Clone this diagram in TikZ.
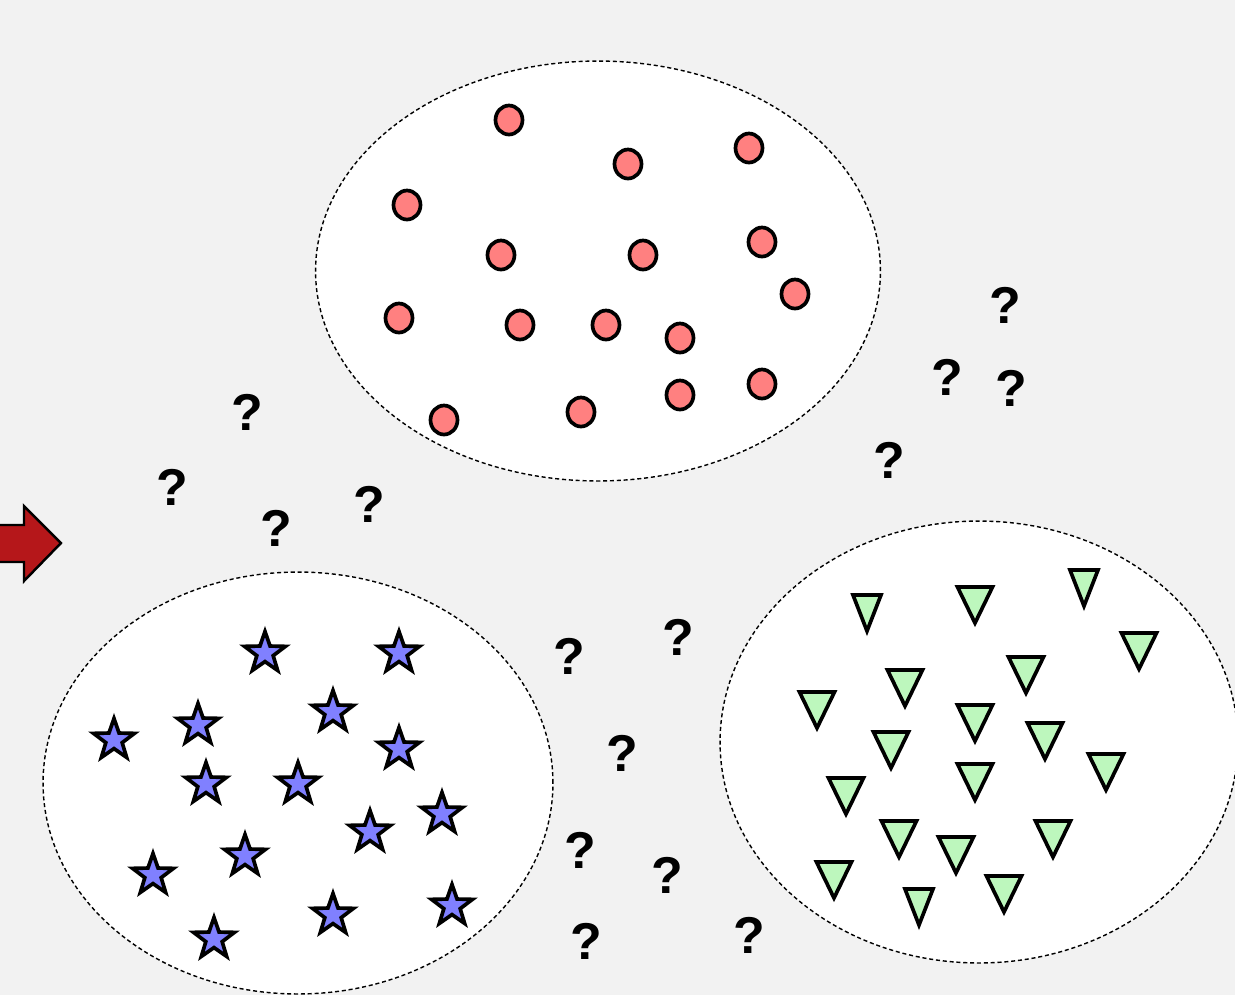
\documentclass[tikz,border=0pt]{standalone}
\usepackage{fontspec}
\newfontfamily\qfont{Liberation Sans}
\usepackage{tikz}
\usetikzlibrary{shapes.geometric}
\definecolor{dotred}{HTML}{FF8080}
\definecolor{starblue}{HTML}{8080FF}
\definecolor{trigreen}{HTML}{BDF7BD}
\definecolor{arrred}{HTML}{B5171A}
\definecolor{bggray}{HTML}{F2F2F2}

\begin{document}
\begin{tikzpicture}[x=0.02cm,y=-0.02cm,
  cluster/.style={ellipse,draw,fill=white,line width=0.8pt,
                  dash pattern=on 2.3pt off 1.6pt,inner sep=0pt},
  dot/.style={ellipse,draw,line width=2.1pt,fill=dotred,
              minimum width=0.54cm,minimum height=0.58cm,inner sep=0pt},
  starmark/.style={star,star points=5,star point ratio=2.5,draw,line width=2.1pt,
                   fill=starblue,minimum size=0.86cm,inner sep=0pt},
  tri/.style={draw,line width=2.1pt,fill=trigreen,line join=miter},
  tridown/.pic={\path[tri] (-#1,-19) -- (#1,-19) -- (0,17) -- cycle;},
  qmark/.style={font=\qfont\bfseries\fontsize{29.5}{30}\selectfont,inner sep=0pt},
  bigarrow/.style={draw,line width=1.4pt,fill=arrred,line join=miter}
]
\fill[bggray] (0,0) rectangle (1235,995);
\useasboundingbox (0,0) rectangle (1235,995);

\node[cluster,minimum width=11.3cm,minimum height=8.4cm] (top) at (598,271) {};
\node[cluster,minimum width=10.2cm,minimum height=8.44cm] (left) at (298,783) {};
\node[cluster,minimum width=10.36cm,minimum height=8.84cm] (right) at (979,742) {};

\path[bigarrow] (-6,525) -- (24,525) -- (24,506) -- (61,543) -- (24,581) -- (24,562) -- (-6,562) -- cycle;

\foreach \px/\py [count=\i] in {509/120,628/164,749/148,407/205,501/255,643/255,762/242,795/294,
    399/318,520/325,606/325,680/338,444/420,581/412,680/395,762/384}
  \node[dot] (c\i) at (\px,\py) {};

\foreach \px/\py [count=\i] in {265/653,399/653,114/740,198/725,333/712,399/749,206/784,298/784,
    442/814,370/832,245/856,153/875,333/915,452/906,214/939}
  \node[starmark] (s\i) at (\px,\py) {};

\foreach \px/\py/\w [count=\i] in {867/614/14,975/606/17.5,1084/589/14,1139/652/17.5,1026/676/17.5,
    905/689/17.5,817/711/17.5,975/724/17.5,1045/742/17.5,891/751/17.5,1106/773/17.5,975/783/17.5,846/797/17.5,
    899/840/17.5,1053/840/17.5,956/856/17.5,834/881/17.5,1004/895/17.5,919/908/14}
  \pic (t\i) at (\px,\py) {tridown=\w};

\foreach \px/\py [count=\i] in {1005/305,947/377,1011/388,889/460,247/412,172/487,369/504,276/528,
    569/656,678/637,622/753,580/850,667/875,586/941,749/935}
  \node[qmark] (q\i) at (\px,\py) {?};
\end{tikzpicture}
\end{document}
